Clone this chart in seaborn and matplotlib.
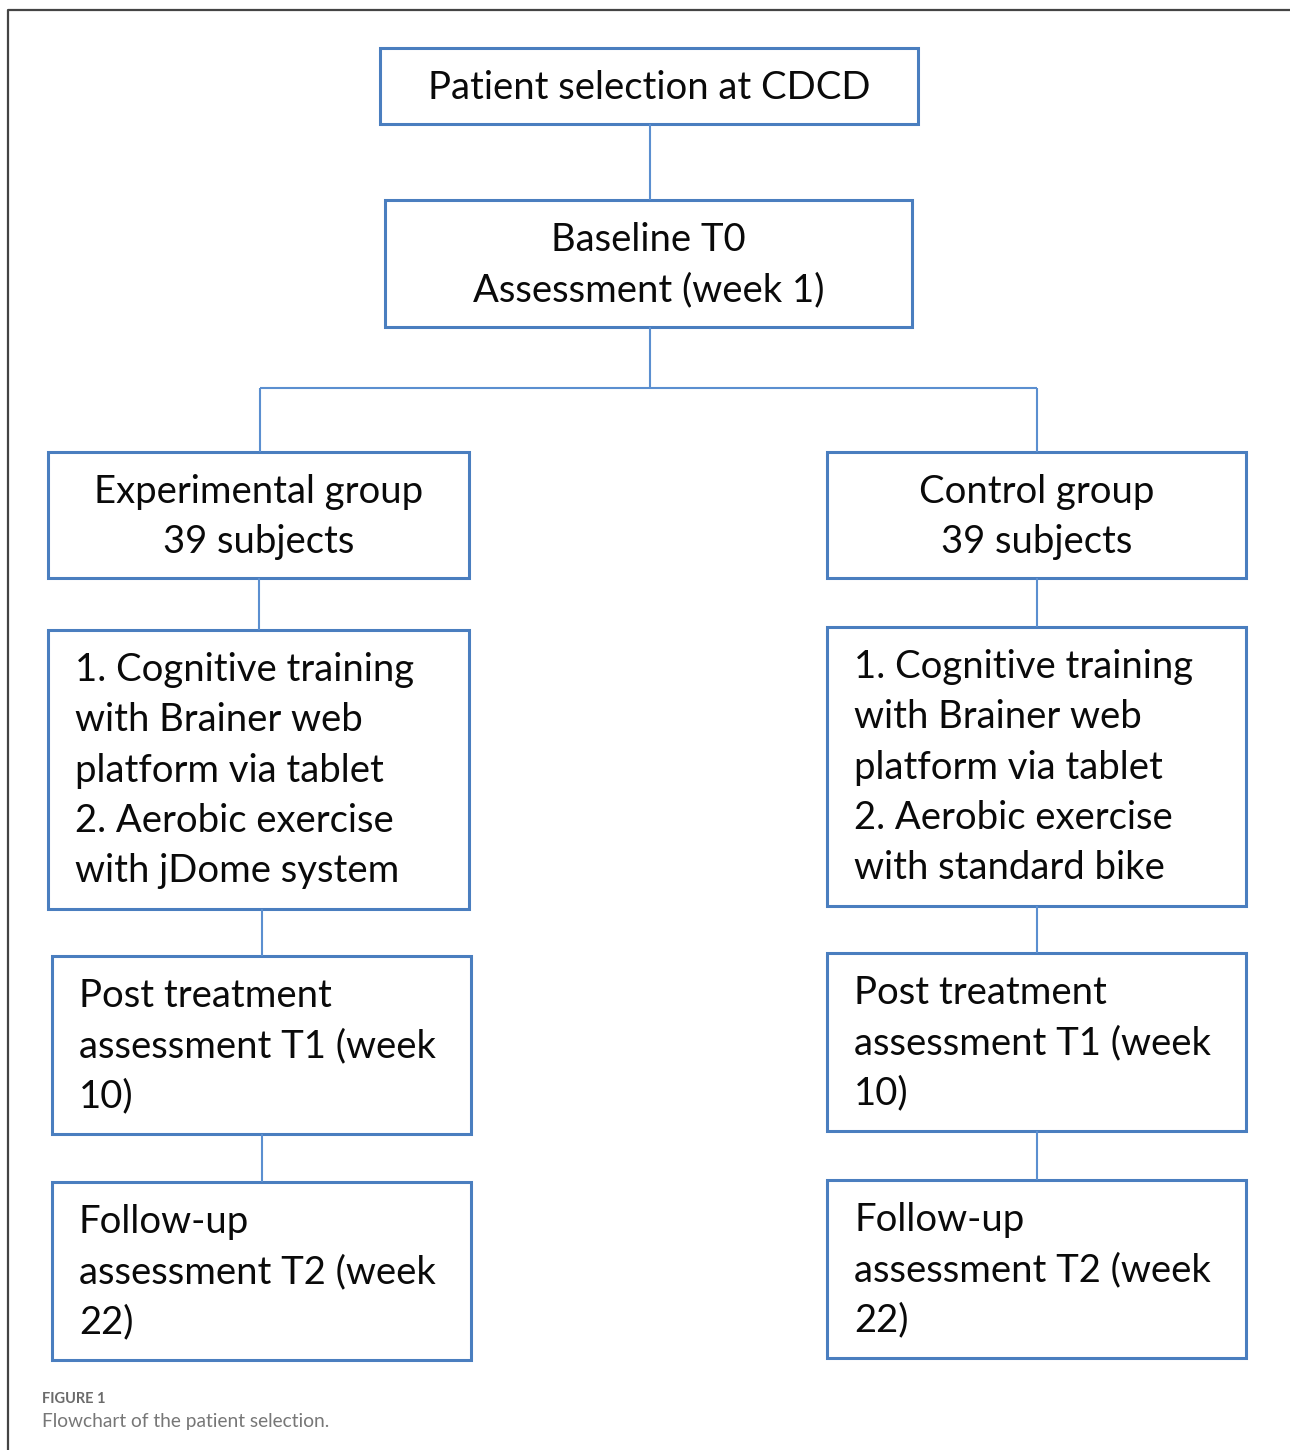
import matplotlib
matplotlib.use("Agg")
import matplotlib.pyplot as plt
from matplotlib.patches import Rectangle
import seaborn as sb

# box texts, one list of lines per box
top_lines = ["Patient selection at CDCD"]
baseline_lines = ["Baseline T0", "Assessment (week 1)"]
group_lines = [["Experimental group", "39 subjects"],
               ["Control group", "39 subjects"]]
treatment_lines = [["1. Cognitive training", "with Brainer web", "platform via tablet",
                    "2. Aerobic exercise", "with jDome system"],
                   ["1. Cognitive training", "with Brainer web", "platform via tablet",
                    "2. Aerobic exercise", "with standard bike"]]
post_lines = [["Post treatment", "assessment T1 (week", "10)"],
              ["Post treatment", "assessment T1 (week", "10)"]]
follow_lines = [["Follow-up", "assessment T2 (week", "22)"],
                ["Follow-up", "assessment T2 (week", "22)"]]
caption_label = "FIGURE 1"
caption_text = "Flowchart of the patient selection."

# layout in pixels: (x0, y0, x1, y1)
top_box = (380, 48, 918, 124)
base_box = (385, 200, 912, 327)
left_boxes = [(48, 452, 469, 578), (48, 630, 469, 909), (52, 956, 471, 1134), (52, 1182, 471, 1360)]
right_boxes = [(827, 452, 1246, 578), (827, 627, 1246, 906), (827, 953, 1246, 1131), (827, 1180, 1246, 1358)]

W, H = 1290, 1450
sb.set_style("white")
plt.rcParams['font.family'] = ['Lato', 'DejaVu Sans']

fig = plt.figure(figsize=(W / 100, H / 100), dpi=100)
ax = fig.add_axes([0, 0, 1, 1])
ax.set_xlim(0, W)
ax.set_ylim(H, 0)
ax.axis("off")

BOX = "#4a7ebf"
LINK = "#5b8fd0"
FS = 27.5


def draw_box(b, lines, center=True):
    x0, y0, x1, y1 = b
    ax.add_patch(Rectangle((x0, y0), x1 - x0, y1 - y0, fill=False, edgecolor=BOX, lw=2.2))
    for i, s in enumerate(lines):
        yb = y0 + 51 + i * 50.3
        if center:
            ax.text((x0 + x1) / 2, yb, s, ha="center", va="baseline", fontsize=FS, color="#0a0a0a")
        else:
            ax.text(x0 + 27, yb, s, ha="left", va="baseline", fontsize=FS, color="#0a0a0a")


def link(xa, ya, xb, yb):
    ax.plot([xa, xb], [ya, yb], color=LINK, lw=1.5, solid_capstyle="butt")


draw_box(top_box, top_lines)
draw_box(base_box, baseline_lines)
left_text = [group_lines[0], treatment_lines[0], post_lines[0], follow_lines[0]]
right_text = [group_lines[1], treatment_lines[1], post_lines[1], follow_lines[1]]
for k, (lb, rb) in enumerate(zip(left_boxes, right_boxes)):
    draw_box(lb, left_text[k], center=(k == 0))
    draw_box(rb, right_text[k], center=(k == 0))

# connectors
link(650, top_box[3], 650, base_box[1])
link(650, base_box[3], 650, 388)
link(260, 388, 1037, 388)
link(260, 388, 260, left_boxes[0][1])
link(1037, 388, 1037, right_boxes[0][1])
for boxes in (left_boxes, right_boxes):
    for a, b in zip(boxes[:-1], boxes[1:]):
        xm = (b[0] + b[2]) / 2
        link(xm, a[3], xm, b[1])

# outer frame
ax.plot([8, 8, W], [H, 10, 10], color="#444444", lw=1.6)

ax.text(42, 1399, caption_label, ha="left", va="center", fontsize=10.5,
        fontweight="bold", color="#6b6b6b")
ax.text(42, 1422, caption_text, ha="left", va="center", fontsize=13.8, color="#777777")

fig.savefig("out.png", dpi=100)
